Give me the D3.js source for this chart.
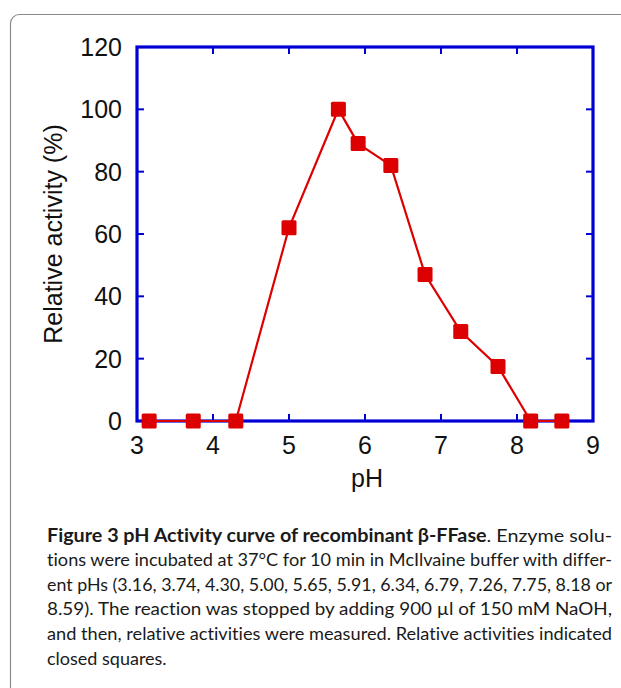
<!DOCTYPE html>
<html><head><meta charset="utf-8">
<script src="https://cdn.jsdelivr.net/npm/d3@7"></script>
<style>body{margin:0;background:#fff;} svg{display:block;} text{font-variant-ligatures:none;font-feature-settings:"liga" 0;}</style>
</head><body>
<script>
const phValues = [3.16, 3.74, 4.30, 5.00, 5.65, 5.91, 6.34, 6.79, 7.26, 7.75, 8.18, 8.59];
const activity = [0, 0, 0, 62, 100, 89, 82, 47, 28.7, 17.5, 0, 0];
const xTicks = [3, 4, 5, 6, 7, 8, 9];
const yTicks = [0, 20, 40, 60, 80, 100, 120];
const xLabel = "pH";
const yLabel = "Relative activity (%)";
const captionLines = [
  {bold: "Figure 3 pH Activity curve of recombinant β-FFase", rest: ". Enzyme solu-", justify: true},
  {bold: "", rest: "tions were incubated at 37°C for 10 min in McIlvaine buffer with differ-", justify: true},
  {bold: "", rest: "ent pHs (3.16, 3.74, 4.30, 5.00, 5.65, 5.91, 6.34, 6.79, 7.26, 7.75, 8.18 or", justify: true},
  {bold: "", rest: "8.59). The reaction was stopped by adding 900 µl of 150 mM NaOH,", justify: true},
  {bold: "", rest: "and then, relative activities were measured. Relative activities indicated", justify: true},
  {bold: "", rest: "closed squares.", justify: false}
];

const W = 621, H = 688;
const svg = d3.select("body").append("svg").attr("width", W).attr("height", H);

// outer panel
svg.append("rect").attr("x", 10.5).attr("y", 14.5).attr("width", 800).attr("height", 900)
  .attr("rx", 9).attr("fill", "none").attr("stroke", "#8a8a8a").attr("stroke-width", 1.2);

const L = 137, R = 593, T = 47, B = 421;
const x = d3.scaleLinear().domain([3, 9]).range([L, R]);
const y = d3.scaleLinear().domain([0, 120]).range([B, T]);
const blue = "#0000d4";
const font = "'Liberation Sans', Arial, sans-serif";

// ticks (inward) on all sides
const tl = 7;
const g = svg.append("g");
xTicks.slice(1, -1).forEach(t => {
  g.append("line").attr("x1", x(t)).attr("x2", x(t)).attr("y1", B).attr("y2", B - tl).attr("stroke", blue).attr("stroke-width", 2);
  g.append("line").attr("x1", x(t)).attr("x2", x(t)).attr("y1", T).attr("y2", T + tl).attr("stroke", blue).attr("stroke-width", 2);
});
yTicks.slice(1, -1).forEach(t => {
  g.append("line").attr("x1", L).attr("x2", L + tl).attr("y1", y(t)).attr("y2", y(t)).attr("stroke", blue).attr("stroke-width", 2);
  g.append("line").attr("x1", R).attr("x2", R - tl).attr("y1", y(t)).attr("y2", y(t)).attr("stroke", blue).attr("stroke-width", 2);
});
// frame
svg.append("rect").attr("x", L).attr("y", T).attr("width", R - L).attr("height", B - T)
  .attr("fill", "none").attr("stroke", blue).attr("stroke-width", 3.2);

// tick labels
xTicks.forEach(t => {
  svg.append("text").attr("x", x(t)).attr("y", 454).attr("text-anchor", "middle")
    .attr("font-family", font).attr("font-size", 25).attr("fill", "#111").text(t);
});
yTicks.forEach(t => {
  svg.append("text").attr("x", 122).attr("y", y(t) + 9).attr("text-anchor", "end")
    .attr("font-family", font).attr("font-size", 25).attr("fill", "#111").text(t);
});
// axis labels
svg.append("text").attr("x", (L + R) / 2 + 2).attr("y", 487).attr("text-anchor", "middle")
  .attr("font-family", font).attr("font-size", 25).attr("fill", "#111").text(xLabel);
svg.append("text").attr("transform", `translate(62,${(T + B) / 2}) rotate(-90)`).attr("text-anchor", "middle")
  .attr("font-family", font).attr("font-size", 25).attr("fill", "#111").text(yLabel);

// data
const data = phValues.map((p, i) => ({p, v: activity[i]}));
const red = "#dd0000";
svg.append("path").datum(data)
  .attr("d", d3.line().x(d => x(d.p)).y(d => y(d.v)))
  .attr("fill", "none").attr("stroke", red).attr("stroke-width", 2.2);
const s = 15;
svg.selectAll("rect.pt").data(data).join("rect").attr("class", "pt")
  .attr("x", d => x(d.p) - s / 2).attr("y", d => y(d.v) - s / 2)
  .attr("width", s).attr("height", s).attr("rx", 1.5).attr("fill", red);

// caption
const capFont = "Lato, 'Open Sans', sans-serif";
captionLines.forEach((ln, i) => {
  const t = svg.append("text").attr("x", 47).attr("y", 541.5 + i * 24.6)
    .attr("font-family", capFont).attr("font-size", 18).attr("fill", "#1a1a1a");
  if (ln.justify) t.attr("textLength", 565).attr("lengthAdjust", "spacingAndGlyphs");
  if (ln.bold) t.append("tspan").attr("font-weight", "bold").text(ln.bold);
  t.append("tspan").text(ln.rest);
});
</script>
</body></html>
